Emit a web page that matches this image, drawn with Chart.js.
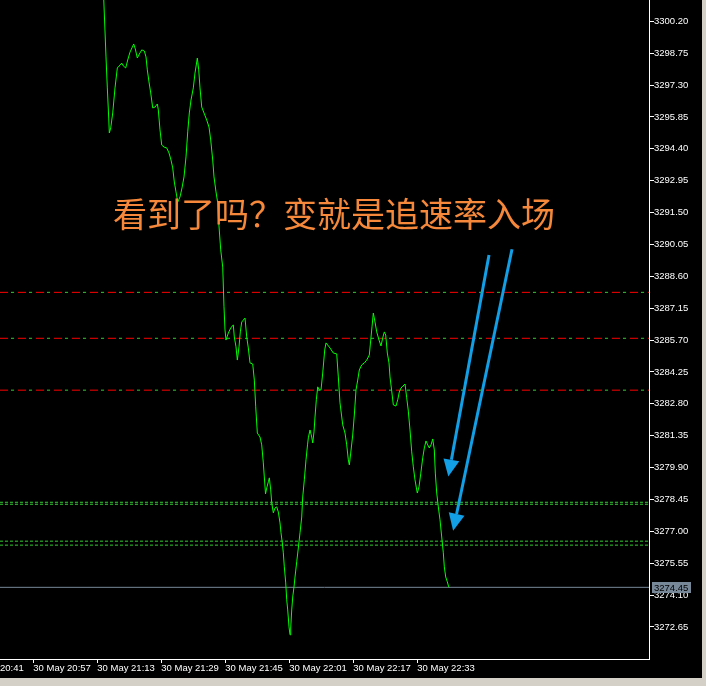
<!DOCTYPE html>
<html>
<head>
<meta charset="utf-8">
<script src="https://cdn.jsdelivr.net/npm/chart.js@4.4.0/dist/chart.umd.min.js"></script>
<style>
  html, body { margin: 0; padding: 0; background: #d4d0c8; }
  #wrap { position: absolute; left: 0; top: 0; width: 702px; height: 678px; background: #000; }
</style>
</head>
<body>
<div id="wrap"><canvas id="myChart"></canvas></div>
<script>
var times = [74.43,75.18,75.51,75.86,76.01,76.36,76.86,77.43,78.01,78.68,
  79.11,79.51,80.11,80.61,81.18,81.76,82.11,82.51,83.01,83.51,
  84.11,84.76,85.18,85.51,85.93,86.36,86.86,87.43,88.01,88.26,
  88.68,89.11,89.68,90.36,90.93,91.43,91.86,92.26,92.68,93.11,
  93.68,94.18,94.68,95.18,95.61,96.01,96.43,97.01,97.43,97.86,
  98.01,98.36,98.68,99.11,99.68,100.36,100.93,101.36,101.86,102.18,
  102.68,103.11,103.26,103.86,104.36,104.68,104.93,105.18,105.76,106.36,
  107.01,107.26,107.68,108.01,108.43,108.76,109.11,109.93,110.36,110.76,
  111.18,111.86,112.26,112.61,113.01,113.68,114.11,114.51,114.76,115.06,
  115.36,115.76,116.01,116.36,116.61,117.01,117.43,117.86,118.26,118.68,
  118.93,119.26,119.51,119.76,120.11,120.36,120.61,120.93,121.18,121.36,
  121.61,121.86,122.18,122.43,122.86,123.26,123.68,124.11,124.36,124.76,
  125.18,125.56,125.76,126.18,126.61,126.86,127.18,127.43,127.76,128.11,
  128.51,128.93,129.36,129.86,130.18,131.18,132.01,132.86,133.26,133.68,
  134.36,134.93,135.36,135.76,136.01,136.36,136.86,137.26,137.68,138.11,
  138.51,139.11,139.76,140.36,141.01,141.36,141.68,142.01,142.43,142.86,
  143.43,143.93,144.36,144.76,145.11,145.51,145.93,146.18,146.61,147.01,
  147.68,148.11,148.51,148.93,149.43,149.93,150.36,150.76,151.18,151.61,
  152.01,152.43,152.86,153.01,153.43,153.86,154.36,154.76,155.18,155.61,
  156.01,156.43,156.86,157.26,157.51,157.86,158.26,158.68,159.11,159.51,
  159.76,160.11,160.51,160.86,161.01];
var prices = [3302.08,3298.58,3297.17,3295.80,3295.12,3295.35,3296.03,3297.17,3298.08,3298.21,
  3298.30,3298.17,3298.08,3298.44,3298.80,3299.03,3299.17,3298.94,3298.53,3298.71,
  3298.90,3298.85,3298.58,3297.99,3297.44,3296.94,3296.26,3296.30,3296.44,3296.17,
  3295.26,3294.57,3294.48,3294.44,3294.21,3293.89,3293.53,3292.89,3292.44,3291.98,
  3292.21,3292.62,3293.12,3294.03,3295.17,3296.03,3296.62,3297.17,3297.85,3298.35,
  3298.53,3297.99,3297.17,3296.30,3296.03,3295.71,3295.39,3294.80,3293.89,3293.12,
  3292.44,3291.94,3291.30,3289.80,3289.02,3287.21,3286.16,3285.70,3286.02,3286.25,
  3286.39,3285.84,3285.39,3284.79,3285.39,3286.07,3286.52,3286.70,3285.84,3285.34,
  3284.66,3284.61,3283.88,3282.66,3281.47,3281.29,3280.93,3280.11,3279.47,3278.70,
  3278.97,3279.25,3279.43,3278.88,3278.29,3277.84,3278.06,3278.11,3277.88,3277.38,
  3276.93,3276.47,3276.02,3275.38,3274.65,3273.88,3273.42,3272.65,3272.29,3272.60,
  3273.42,3274.01,3274.47,3274.92,3275.61,3276.24,3276.93,3277.65,3278.56,3279.34,
  3280.25,3280.93,3281.25,3281.61,3281.29,3281.02,3281.52,3282.20,3282.98,3283.57,
  3283.43,3283.43,3284.20,3285.25,3285.57,3285.34,3285.11,3285.07,3284.02,3282.84,
  3281.84,3281.47,3280.93,3280.25,3280.02,3280.56,3281.38,3282.29,3283.43,3283.88,
  3284.34,3284.57,3284.66,3284.79,3285.02,3285.70,3286.30,3286.93,3286.52,3286.07,
  3285.70,3285.43,3285.80,3286.07,3285.93,3285.11,3284.66,3284.02,3283.38,3282.75,
  3282.70,3282.98,3283.34,3283.52,3283.61,3283.70,3283.07,3282.47,3281.61,3280.61,
  3279.93,3279.34,3278.88,3278.74,3279.02,3279.61,3280.34,3280.79,3281.11,3280.93,
  3280.79,3280.93,3281.20,3280.70,3279.65,3278.74,3278.11,3277.52,3276.74,3276.02,
  3275.38,3274.92,3274.70,3274.47,3274.45];

var priceTicks = [3272.65,3274.10,3275.55,3277.00,3278.45,3279.90,3281.35,3282.80,3284.25,3285.70,
  3287.15,3288.60,3290.05,3291.50,3292.95,3294.40,3295.85,3297.30,3298.75,3300.20];
var timeTicks = [48.68, 57, 73, 89, 105, 121, 137, 153];
var timeLabels = ["20:41", "30 May 20:57", "30 May 21:13", "30 May 21:29",
  "30 May 21:45", "30 May 22:01", "30 May 22:17", "30 May 22:33"];

var redLevels = [3287.87, 3285.78, 3283.42];
var greenLevels = [3278.32, 3278.23, 3276.55, 3276.37];
var lastPrice = 3274.45;

var xMin = 48.68, xMax = 210.93;
var yMin = 3271.19, yMax = 3301.17;

// drawn objects, anchored in time / price
var arrows = [
  { from: [170.93, 3289.57], to: [160.76, 3279.49] },
  { from: [176.68, 3289.83], to: [161.96, 3277.03] },
];
var note = { t: 76.93, p: 3291.44, text: "看到了吗？变就是追速率入场" };

function levelLine(p, color, dash, offset) {
  return {
    data: [{ x: xMin, y: p }, { x: xMax, y: p }],
    borderColor: color,
    borderWidth: 1,
    borderDash: dash,
    borderDashOffset: offset || 0,
    pointRadius: 0,
  };
}

var datasets = [
  {
    data: times.map(function (t, i) { return { x: t, y: prices[i] }; }),
    borderColor: "#00ff00",
    borderWidth: 1,
    pointRadius: 0,
    tension: 0,
  },
  levelLine(lastPrice, "#778899", []),
];
redLevels.forEach(function (p) {
  datasets.push(levelLine(p, "#ff0000", [8, 10], 0));
  datasets.push(levelLine(p, "#32cd32", [3, 15], 7));
});
greenLevels.forEach(function (p) {
  datasets.push(levelLine(p, "#32cd32", [3, 2], 0));
});

var drawings = {
  id: "drawings",
  afterDraw: function (chart) {
    var c = chart.ctx, xs = chart.scales.x, ys = chart.scales.y;
    c.save();
    // text object
    c.fillStyle = "#f5883a";
    c.font = '34px "Noto Sans CJK SC"';
    c.textBaseline = "middle";
    c.textAlign = "left";
    c.fillText(note.text, xs.getPixelForValue(note.t), ys.getPixelForValue(note.p));
    // arrows
    arrows.forEach(function (a) {
      var x1 = xs.getPixelForValue(a.from[0]), y1 = ys.getPixelForValue(a.from[1]);
      var x2 = xs.getPixelForValue(a.to[0]), y2 = ys.getPixelForValue(a.to[1]);
      var ang = Math.atan2(y2 - y1, x2 - x1);
      var hl = 17, hw = 8;
      var bx = x2 - hl * Math.cos(ang), by = y2 - hl * Math.sin(ang);
      c.strokeStyle = "#139fe6";
      c.fillStyle = "#139fe6";
      c.lineWidth = 3;
      c.beginPath();
      c.moveTo(x1, y1);
      c.lineTo(bx, by);
      c.stroke();
      c.beginPath();
      c.moveTo(x2, y2);
      c.lineTo(bx + hw * Math.sin(ang), by - hw * Math.cos(ang));
      c.lineTo(bx - hw * Math.sin(ang), by + hw * Math.cos(ang));
      c.closePath();
      c.fill();
    });
    // last price box on the axis
    var py = Math.round(ys.getPixelForValue(lastPrice));
    c.fillStyle = "#778899";
    c.fillRect(ys.left + 3, py - 5, 39, 11);
    c.fillStyle = "#000";
    c.font = '9.5px "Liberation Sans"';
    c.textBaseline = "middle";
    c.fillText(lastPrice.toFixed(2), ys.left + 5, py + 1);
    c.restore();
  },
};

Chart.defaults.font.family = '"Liberation Sans", Arial, sans-serif';
Chart.defaults.font.size = 9.5;

var ctx = document.getElementById("myChart").getContext("2d");
var chart = new Chart(ctx, {
  type: "line",
  data: { datasets: datasets },
  options: {
    responsive: true,
    maintainAspectRatio: false,
    animation: false,
    layout: { padding: 0 },
    plugins: { legend: { display: false }, tooltip: { enabled: false } },
    scales: {
      x: {
        type: "linear",
        min: xMin,
        max: xMax,
        afterBuildTicks: function (s) {
          s.ticks = timeTicks.map(function (v) { return { value: v }; });
        },
        afterFit: function (s) {
          s.height = 19;
          s.paddingLeft = s.paddingRight = 0;
        },
        grid: {
          drawOnChartArea: false,
          tickLength: 4,
          tickColor: function (c) { return c.index === 0 ? "rgba(0,0,0,0)" : "#ffffff"; },
        },
        border: { display: true, color: "#ffffff", width: 1 },
        ticks: {
          color: "#ffffff",
          align: "start",
          padding: 0,
          maxRotation: 0,
          autoSkip: false,
          callback: function (v, i) { return timeLabels[i]; },
        },
      },
      y: {
        position: "right",
        min: yMin,
        max: yMax,
        afterBuildTicks: function (s) {
          s.ticks = priceTicks.map(function (v) { return { value: v }; });
        },
        afterFit: function (s) {
          s.width = 53;
          s.paddingTop = s.paddingBottom = 0;
        },
        grid: { drawOnChartArea: false, tickLength: 5, tickColor: "#ffffff" },
        border: { display: true, color: "#ffffff", width: 1 },
        ticks: {
          color: "#ffffff",
          padding: 0,
          autoSkip: false,
          callback: function (v) { return v.toFixed(2); },
        },
      },
    },
  },
  plugins: [drawings],
});
</script>
</body>
</html>
